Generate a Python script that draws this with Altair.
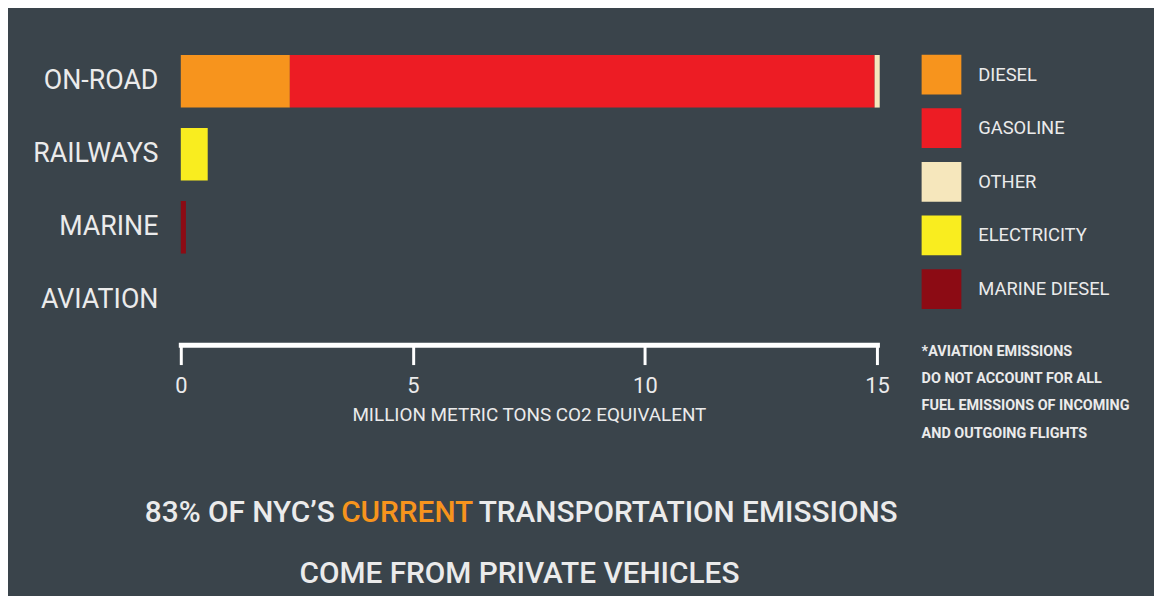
import altair as alt
import pandas as pd

# ---- data ----
categories = ["ON-ROAD", "RAILWAYS", "MARINE", "AVIATION"]
fuels = ["DIESEL", "GASOLINE", "OTHER", "ELECTRICITY", "MARINE DIESEL"]
fuel_colors = ["#f7941d", "#ed1c24", "#f6e7bc", "#f9ed1f", "#8c0b14"]
bar_category = ["ON-ROAD", "ON-ROAD", "ON-ROAD", "RAILWAYS", "MARINE"]
bar_fuel = ["DIESEL", "GASOLINE", "OTHER", "ELECTRICITY", "MARINE DIESEL"]
bar_value = [2.35, 12.6, 0.11, 0.58, 0.11]
x_ticks = [0, 5, 10, 15]
x_title = "MILLION METRIC TONS CO2 EQUIVALENT"
footnote = ["*AVIATION EMISSIONS", "DO NOT ACCOUNT FOR ALL",
            "FUEL EMISSIONS OF INCOMING", "AND OUTGOING FLIGHTS"]
headline_a = "83% OF NYC’S"
headline_b = "CURRENT"
headline_c = "TRANSPORTATION  EMISSIONS"
headline_2 = "COME  FROM  PRIVATE  VEHICLES"

df = pd.DataFrame({
    "category": bar_category,
    "fuel": bar_fuel,
    "value": bar_value,
    "order": [fuels.index(f) for f in bar_fuel],
})

FONT = "Roboto"
BG = "#3a444b"
TXT = "#ebebeb"

W, H = 701, 294
PL, PT = 174, 35

bars = alt.Chart(df).mark_bar().encode(
    x=alt.X("value:Q", stack="zero",
            scale=alt.Scale(domain=[0, 15], nice=False),
            axis=alt.Axis(values=x_ticks, title=x_title, grid=False,
                          domainColor="white", domainWidth=5, domainCap="square",
                          tickColor="white", tickWidth=3, tickSize=20,
                          labelColor=TXT, labelFont=FONT, labelFontSize=22,
                          labelPadding=11, offset=8, labelFlush=False,
                          titleColor=TXT, titleFont=FONT, titleFontSize=19,
                          titleFontWeight="normal", titlePadding=9)),
    y=alt.Y("category:N",
            scale=alt.Scale(domain=categories, paddingInner=0.28, paddingOuter=0.14),
            axis=alt.Axis(title=None, domain=False, ticks=False,
                          labelColor=TXT, labelFont=FONT, labelFontSize=27,
                          labelPadding=23)),
    color=alt.Color("fuel:N", scale=alt.Scale(domain=fuels, range=fuel_colors),
                    legend=alt.Legend(title=None, orient="none", legendX=746, legendY=10,
                                      symbolType="square", symbolSize=1600,
                                      symbolStrokeWidth=0, symbolOpacity=1,
                                      labelColor=TXT, labelFont=FONT, labelFontSize=18.5,
                                      labelOffset=17, rowPadding=14, padding=0)),
    order=alt.Order("order:Q"),
)

one = pd.DataFrame({"k": [0]})

def txt(text, x, y, size, align="left", baseline="middle", color=TXT, weight="normal", **kw):
    return alt.Chart(one).mark_text(text=text, x=x, y=y, fontSize=size, align=align,
                                    baseline=baseline, color=color, font=FONT,
                                    fontWeight=weight, **kw)

notes = txt(footnote, 746, 302, 14.5, baseline="top", weight="bold", lineHeight=27.5)
h1 = txt(headline_a, 155, 472, 30, align="right", weight=500)
h2 = txt(headline_b, 228, 472, 30, align="center", color="#f7941d", weight=500)
h3 = txt(headline_c, 300, 472, 30, align="left", weight=500)
h4 = txt(headline_2, 341, 533, 30, align="center", weight=500)

chart = alt.layer(bars, notes, h1, h2, h3, h4).properties(
    width=W, height=H,
    autosize=alt.AutoSizeParams(type="none"),
    padding={"left": PL, "top": PT, "right": 1154 - PL - W, "bottom": 588 - PT - H},
    background=BG,
).configure_view(stroke=None)

chart.save("out.html", embed_options={"renderer": "svg", "actions": False})
